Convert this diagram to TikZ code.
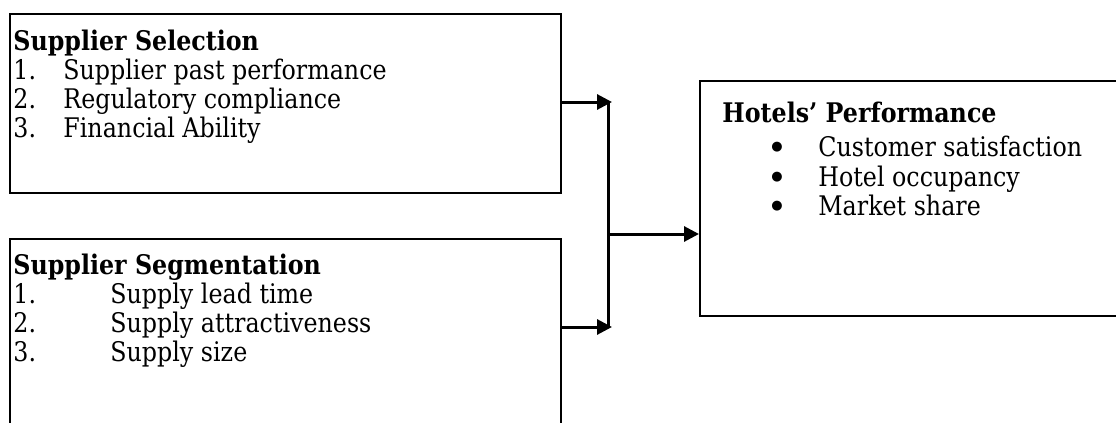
\documentclass[tikz,border=0pt]{standalone}
\usepackage{fontspec}
\setmainfont{DejaVu Serif}[FakeStretch=0.88]
\newfontfamily\bulfont{DejaVu Sans}
\usetikzlibrary{arrows.meta}
\begin{document}
\begin{tikzpicture}[x=0.5pt,y=-0.5pt,
  box/.style={draw=black, line width=1pt, rectangle, inner sep=0pt},
  txt/.style={anchor=base west, inner sep=0pt, font=\fontsize{13.5}{15}\selectfont},
  head/.style={txt, font=\fontsize{13.5}{15}\selectfont\bfseries},
  bul/.style={anchor=center, inner sep=0pt, font=\bulfont\fontsize{6.5}{7}\selectfont},
  conn/.style={line width=1.5pt},
  arr/.style={conn, -{Triangle[length=7.5pt,width=7.5pt]}}]
\useasboundingbox (0,0) rectangle (1116,423);
% boxes
\node[box, minimum width=275.5pt, minimum height=89.5pt] (sel) at (285.5,103.5) {};
\node[box, minimum width=275.5pt, minimum height=110pt] (seg) at (285.5,349) {};
\node[box, minimum width=215pt, minimum height=117.5pt] (hp) at (915,198.5) {};
% box 1 text
\node[head] (h1) at (13,50) {Supplier Selection};
\node[txt] (a1n) at (13,79) {1.};
\node[txt] (a1t) at (63,79) {Supplier past performance};
\node[txt] (a2n) at (13,108) {2.};
\node[txt] (a2t) at (63,108) {Regulatory compliance};
\node[txt] (a3n) at (13,137) {3.};
\node[txt] (a3t) at (63,137) {Financial Ability};
% box 2 text
\node[head] (h2) at (13,274) {Supplier Segmentation};
\node[txt] (b1n) at (13,303) {1.};
\node[txt] (b1t) at (110,303) {Supply lead time};
\node[txt] (b2n) at (13,332) {2.};
\node[txt] (b2t) at (110,332) {Supply attractiveness};
\node[txt] (b3n) at (13,361) {3.};
\node[txt] (b3t) at (110,361) {Supply size};
% box 3 text
\node[head] (h3) at (722,122) {Hotels’ Performance};
\node[bul] (c1b) at (777,147) {●};
\node[txt] (c1t) at (818,156) {Customer satisfaction};
\node[bul] (c2b) at (777,177) {●};
\node[txt] (c2t) at (818,186) {Hotel occupancy};
\node[bul] (c3b) at (777,206) {●};
\node[txt] (c3t) at (818,215) {Market share};
% connectors
\coordinate (t1) at (612,102);
\coordinate (t2) at (612,327);
\coordinate (v1) at (608,101);
\coordinate (v2) at (608,328);
\coordinate (jn) at (608,234);
\draw[arr] (sel.east |- t1) -- (t1);
\draw[arr] (seg.east |- t2) -- (t2);
\draw[conn] (v1) -- (v2);
\draw[arr] (jn) -- (jn -| hp.west);
\end{tikzpicture}
\end{document}
